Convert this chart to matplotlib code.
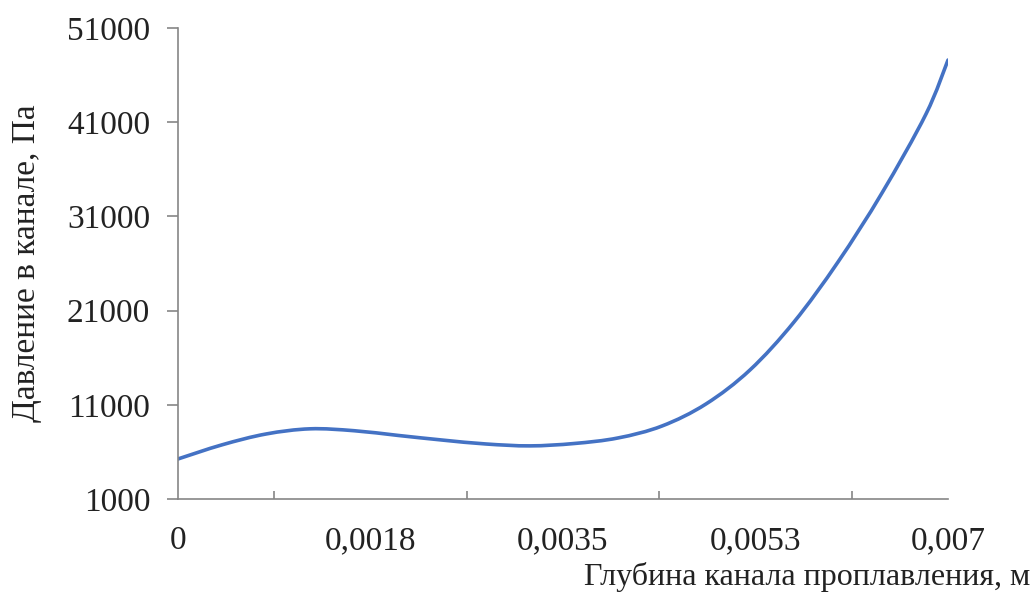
import numpy as np
import matplotlib
matplotlib.use('Agg')
import matplotlib.pyplot as plt
from matplotlib.path import Path
from matplotlib.patches import PathPatch

# data
depth = [0, 0.0004, 0.0008, 0.0012, 0.0016, 0.002, 0.0024, 0.0028, 0.0032,
         0.0036, 0.004, 0.0044, 0.0048, 0.0052, 0.0056, 0.006, 0.0064,
         0.0068, 0.007]
pressure = [5250, 6750, 7900, 8450, 8250, 7750, 7260, 6840, 6640,
            6890, 7480, 8750, 11090, 14700, 19790, 26160, 33490,
            41870, 47600]

xlabel_pos = [0, 0.00175, 0.0035, 0.00525, 0.007]
xlabel_txt = ['0', '0,0018', '0,0035', '0,0053', '0,007']
xtick_marks = [0.000875, 0.002625, 0.004375, 0.006125, 0.007]
yticks = [1000, 11000, 21000, 31000, 41000, 51000]

plt.rcParams['font.family'] = ['Liberation Serif', 'DejaVu Serif']

fig = plt.figure(figsize=(10.35, 6.01), dpi=100)
ax = fig.add_axes([178/1035, 1-499/601, 770/1035, 471/601])

# smoothed line like a spreadsheet chart: bezier segments through the points
pts = np.column_stack([depth, pressure])
verts = [pts[0]]
codes = [Path.MOVETO]
for i in range(len(pts) - 1):
    p0 = pts[max(i - 1, 0)]
    p1 = pts[i]
    p2 = pts[i + 1]
    p3 = pts[min(i + 2, len(pts) - 1)]
    c1 = p1 + (p2 - p0) / 6
    c2 = p2 - (p3 - p1) / 6
    verts += [c1, c2, p2]
    codes += [Path.CURVE4] * 3
ax.add_patch(PathPatch(Path(verts, codes), fill=False, edgecolor='#4472c4',
                       lw=2.6, capstyle='round'))

ax.set_xlim(0, 0.007)
ax.set_ylim(1000, 51000)

grey = '#868686'
for s in ('top', 'right'):
    ax.spines[s].set_visible(False)
for s in ('left', 'bottom'):
    ax.spines[s].set_color(grey)
    ax.spines[s].set_linewidth(1.2)

ax.set_yticks(yticks)
ax.set_yticklabels([str(v) for v in yticks])
ax.tick_params(axis='y', direction='out', length=8, width=1.2, color=grey,
               pad=12, labelsize=24, labelcolor='#222222')

ax.set_xticks(xlabel_pos)
ax.set_xticklabels(xlabel_txt)
ax.tick_params(axis='x', which='major', length=0, pad=19, labelsize=24,
               labelcolor='#222222')
ax.set_xticks(xtick_marks, minor=True)
ax.tick_params(axis='x', which='minor', direction='in', length=6, width=1.2,
               color=grey)

ax.set_ylabel('Давление в канале, Па', fontsize=24, color='#222222')
ax.yaxis.set_label_coords(-136/770, 0.5)

fig.text(1030/1035, 1-577/601, 'Глубина канала проплавления, м',
         fontsize=23, color='#222222', ha='right', va='center')

fig.savefig('out.png', dpi=100)
